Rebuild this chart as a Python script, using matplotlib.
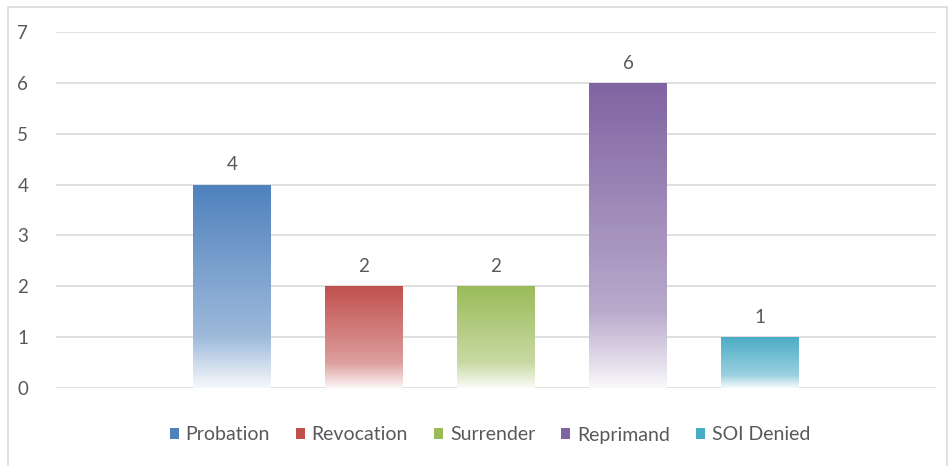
import matplotlib.pyplot as plt
import numpy as np
from matplotlib.colors import to_rgb
from matplotlib.patches import Rectangle, Patch

categories = ['Probation', 'Revocation', 'Surrender', 'Reprimand', 'SOI Denied']
values = [4, 2, 2, 6, 1]
colors = ['#4F81BD', '#C0504D', '#9BBB59', '#8064A2', '#4BACC6']

plt.rcParams['font.family'] = ['Lato', 'DejaVu Sans']
text_col = '#595959'

fig = plt.figure(figsize=(9.51, 4.66), dpi=100)
# outer chart border (bottom edge is cut off in the original)
fig.patches.append(Rectangle((8 / 951, -10 / 466), 939 / 951, 469 / 466, transform=fig.transFigure,
                             fill=False, edgecolor='#D9D9D9', lw=1.2))
ax = fig.add_axes([56 / 951, 1 - 388 / 466, 880 / 951, 356 / 466])

x = np.arange(len(values))
bars = ax.bar(x, values, width=0.59, color='none', edgecolor='none', zorder=3)

# vertical gradient: full colour at top, fading to white at the bottom
t = np.linspace(0, 1, 256)  # 0 = top, 1 = bottom
alpha = np.where(t < 0.75, 1.0 - 0.45 * t / 0.75, 0.55 - 0.5 * (t - 0.75) / 0.25)
for b, c in zip(bars, colors):
    rgb = np.array(to_rgb(c))
    img = np.ones((256, 1, 3)) * (alpha[:, None, None] * rgb + (1 - alpha[:, None, None]))
    x0, w, h = b.get_x(), b.get_width(), b.get_height()
    im = ax.imshow(img, extent=(x0, x0 + w, 0, h), aspect='auto', zorder=3, interpolation='bilinear')
    im.set_clip_path(b)

for xi, v in zip(x, values):
    ax.annotate(str(v), (xi, v), xytext=(0, 8), textcoords='offset points',
                ha='center', va='bottom', fontsize=13.5, color=text_col)

ax.set_xlim(-4 / 3, 4 + 4 / 3)
ax.set_ylim(0, 7)
ax.set_yticks(range(8))
ax.yaxis.grid(True, color='#D9D9D9', lw=1.2)
ax.set_axisbelow(True)
ax.set_xticks([])
for s in ax.spines.values():
    s.set_visible(False)
ax.tick_params(axis='y', length=0, pad=20, labelsize=13.5, labelcolor=text_col)

handles = [Patch(facecolor=c, edgecolor='none') for c in colors]
fig.legend(handles, categories, loc='center', bbox_to_anchor=(490 / 951, 1 - 435 / 466), ncol=5,
           frameon=False, fontsize=14, labelcolor=text_col, handlelength=0.45, handleheight=0.45,
           handletextpad=0.35, columnspacing=1.35)

fig.savefig('out.png', dpi=100)
